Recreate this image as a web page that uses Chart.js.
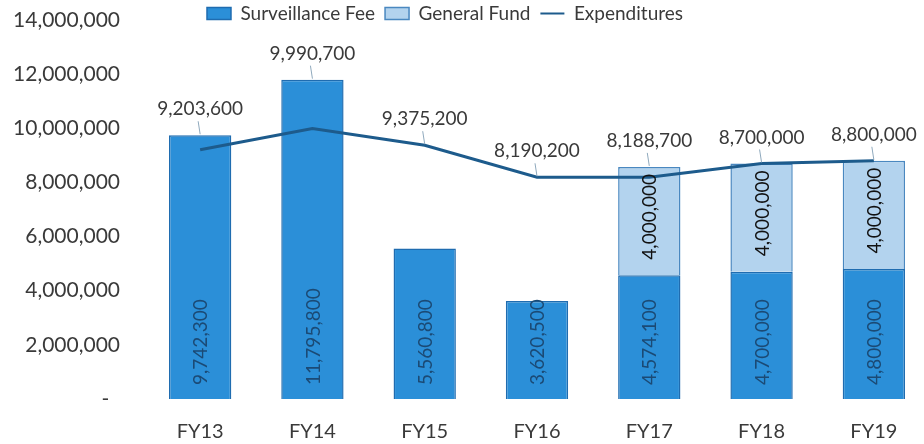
<!DOCTYPE html>
<html>
<head>
<meta charset="utf-8">
<script src="https://cdn.jsdelivr.net/npm/chart.js@4/dist/chart.umd.min.js"></script>
<style>
  html, body { margin: 0; padding: 0; background: #fff; overflow: hidden; }
  #wrap { width: 940px; height: 444px; }
</style>
</head>
<body>
<div id="wrap"><canvas id="funding" width="940" height="444"></canvas></div>
<script>
var years = ['FY13', 'FY14', 'FY15', 'FY16', 'FY17', 'FY18', 'FY19'];
var surveillanceFee = [9742300, 11795800, 5560800, 3620500, 4574100, 4700000, 4800000];
var generalFund = [null, null, null, null, 4000000, 4000000, 4000000];
var expenditures = [9203600, 9990700, 9375200, 8190200, 8188700, 8700000, 8800000];
var yTicks = [0, 2000000, 4000000, 6000000, 8000000, 10000000, 12000000, 14000000];

var fontFamily = 'Lato, "Open Sans", sans-serif';
var textColor = '#3a3a3a';
var feeColor = '#2b8fd8';
var feeBorder = '#1f6cb0';
var fundColor = '#b3d3ee';
var fundBorder = '#4a88c0';
var lineColor = '#1d5b8c';

function fmt(v) {
    return v.toLocaleString('en-US');
}

// nudges the legend so it sits where the original has it
var legendNudge = {
    id: 'legendNudge',
    afterLayout: function (chart) {
        chart.legend.left -= 40;
        chart.legend.top -= 6;
        chart.legend.bottom += 12;
    }
};

var valueLabels = {
    id: 'valueLabels',
    afterDatasetsDraw: function (chart) {
        var ctx = chart.ctx;
        var feeMeta = chart.getDatasetMeta(0);
        var fundMeta = chart.getDatasetMeta(1);
        var lineMeta = chart.getDatasetMeta(2);
        ctx.save();
        ctx.font = '19px ' + fontFamily;
        ctx.textBaseline = 'middle';

        // values inside the fee bars, read from the bottom up
        feeMeta.data.forEach(function (bar, i) {
            ctx.save();
            ctx.translate(bar.x, bar.base - 14);
            ctx.rotate(-Math.PI / 2);
            ctx.textAlign = 'left';
            ctx.fillStyle = '#1b4a75';
            ctx.fillText(fmt(surveillanceFee[i]), 0, 1);
            ctx.restore();
        });

        // values inside the general fund segments, hung from the top
        fundMeta.data.forEach(function (bar, i) {
            if (generalFund[i] == null) return;
            ctx.save();
            ctx.translate(bar.x, bar.y + 7);
            ctx.rotate(-Math.PI / 2);
            ctx.textAlign = 'right';
            ctx.fillStyle = '#111';
            ctx.fillText(fmt(generalFund[i]), 0, 1);
            ctx.restore();
        });

        // expenditure values above the line, with short leaders
        lineMeta.data.forEach(function (pt, i) {
            var top = feeMeta.data[i].y;
            if (generalFund[i] != null) top = fundMeta.data[i].y;
            var anchor = Math.min(pt.y, top);
            var ly = anchor - 26;
            ctx.strokeStyle = '#8fa9bd';
            ctx.lineWidth = 1;
            ctx.beginPath();
            ctx.moveTo(pt.x - 2, ly + 12);
            ctx.lineTo(pt.x, anchor - 1);
            ctx.stroke();
            ctx.textAlign = 'center';
            ctx.fillStyle = textColor;
            ctx.fillText(fmt(expenditures[i]), pt.x, ly);
        });
        ctx.restore();
    }
};

var ctx = document.getElementById('funding').getContext('2d');
var fundingChart = new Chart(ctx, {
    type: 'bar',
    data: {
        labels: years,
        datasets: [
            {
                label: 'Surveillance Fee',
                data: surveillanceFee,
                backgroundColor: feeColor,
                borderColor: feeBorder,
                borderWidth: 1.5,
                stack: 'funding',
                order: 1,
                categoryPercentage: 1,
                barPercentage: 0.555
            },
            {
                label: 'General Fund',
                data: generalFund,
                backgroundColor: fundColor,
                borderColor: fundBorder,
                borderWidth: 1.5,
                stack: 'funding',
                order: 2,
                categoryPercentage: 1,
                barPercentage: 0.555
            },
            {
                label: 'Expenditures',
                type: 'line',
                data: expenditures,
                borderColor: lineColor,
                backgroundColor: lineColor,
                borderWidth: 3,
                pointRadius: 0,
                tension: 0,
                stack: 'spend',
                order: 0
            }
        ]
    },
    options: {
        responsive: false,
        animation: false,
        layout: { padding: { right: 10 } },
        plugins: {
            tooltip: { enabled: false },
            legend: {
                position: 'top',
                maxHeight: 20,
                labels: {
                    font: { family: fontFamily, size: 19 },
                    color: textColor,
                    usePointStyle: true,
                    pointStyleWidth: 24,
                    boxHeight: 12,
                    padding: 10,
                    sort: function (a, b) { return a.datasetIndex - b.datasetIndex; },
                    generateLabels: function (chart) {
                        var items = Chart.defaults.plugins.legend.labels.generateLabels(chart);
                        items.forEach(function (item) {
                            if (item.datasetIndex === 2) {
                                item.pointStyle = 'line';
                                item.strokeStyle = lineColor;
                                item.lineWidth = 2;
                            } else {
                                item.pointStyle = 'rect';
                                item.lineWidth = 1.5;
                            }
                        });
                        return items;
                    }
                }
            }
        },
        scales: {
            x: {
                stacked: true,
                grid: { display: false, drawTicks: false },
                border: { display: false },
                ticks: {
                    color: textColor,
                    font: { family: fontFamily, size: 20 },
                    padding: 21
                },
                afterFit: function (scale) { scale.height = 45; }
            },
            y: {
                stacked: true,
                min: 0,
                max: 14000000,
                grid: { display: false, drawTicks: false },
                border: { display: false },
                afterBuildTicks: function (scale) {
                    scale.ticks = yTicks.map(function (v) { return { value: v }; });
                },
                ticks: {
                    color: textColor,
                    font: { family: fontFamily, size: 21 },
                    padding: 24,
                    callback: function (v) { return v === 0 ? '-  ' : fmt(v); }
                },
                afterFit: function (scale) {
                    scale.width = 144;
                    scale.paddingTop = 12;
                    scale.paddingBottom = 12;
                }
            }
        }
    },
    plugins: [legendNudge, valueLabels]
});
</script>
</body>
</html>
